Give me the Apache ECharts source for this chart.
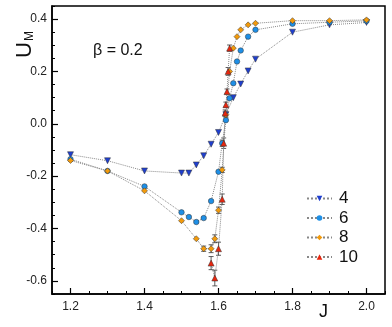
<!DOCTYPE html>
<html>
<head>
<meta charset="utf-8">
<script src="https://cdn.jsdelivr.net/npm/echarts@6/dist/echarts.min.js"></script>
<style>
  html, body { margin: 0; background: #fff; }
  #chart { width: 392px; height: 327px; }
</style>
</head>
<body>
<div id="chart"></div>
<script>
// L = 4
const J4 = [1.2, 1.3, 1.4, 1.5, 1.52, 1.54, 1.56, 1.58, 1.6, 1.62, 1.64, 1.66, 1.68, 1.7, 1.8, 1.9, 2.0];
const U4 = [-0.118, -0.141, -0.18, -0.188, -0.188, -0.157, -0.122, -0.078, -0.033, 0.035, 0.1, 0.152, 0.202, 0.247, 0.35, 0.378, 0.387];
const E4 = [0, 0, 0, 0, 0, 0, 0, 0, 0, 0, 0, 0, 0, 0, 0, 0, 0];
// L = 6
const J6 = [1.2, 1.3, 1.4, 1.5, 1.52, 1.54, 1.56, 1.58, 1.6, 1.61, 1.62, 1.63, 1.64, 1.65, 1.66, 1.68, 1.7, 1.8, 1.9, 2.0];
const U6 = [-0.135, -0.18, -0.239, -0.338, -0.356, -0.375, -0.36, -0.295, -0.183, -0.074, 0.014, 0.098, 0.155, 0.238, 0.28, 0.333, 0.359, 0.382, 0.388, 0.393];
const E6 = [0, 0, 0, 0, 0, 0, 0, 0, 0, 0.012, 0, 0, 0, 0, 0, 0, 0, 0, 0, 0];
// L = 8
const J8 = [1.2, 1.3, 1.4, 1.5, 1.54, 1.56, 1.58, 1.59, 1.6, 1.61, 1.62, 1.63, 1.64, 1.65, 1.66, 1.68, 1.7, 1.8, 1.9, 2.0];
const U8 = [-0.14, -0.18, -0.256, -0.37, -0.439, -0.477, -0.477, -0.439, -0.33, -0.176, 0.035, 0.2, 0.289, 0.333, 0.359, 0.378, 0.384, 0.394, 0.394, 0.397];
const E8 = [0, 0, 0, 0, 0, 0.01, 0.015, 0.015, 0.012, 0.01, 0.01, 0, 0, 0, 0, 0, 0, 0, 0, 0];
// L = 10
const J10 = [1.58, 1.59, 1.6, 1.61, 1.614, 1.618, 1.62, 1.623, 1.626, 1.63];
const U10 = [-0.532, -0.589, -0.477, -0.288, -0.074, 0.041, 0.073, 0.123, 0.2, 0.289];
const E10 = [0.025, 0.03, 0.025, 0.02, 0.02, 0.012, 0.01, 0.01, 0.015, 0.012];

const xMajor = [1.2, 1.4, 1.6, 1.8, 2.0];
const xMinor = [1.15, 1.25, 1.3, 1.35, 1.45, 1.5, 1.55, 1.65, 1.7, 1.75, 1.85, 1.9, 1.95, 2.05];
const yMajor = [-0.6, -0.4, -0.2, 0.0, 0.2, 0.4];
const yMinor = [-0.65, -0.55, -0.5, -0.45, -0.35, -0.3, -0.25, -0.15, -0.1, -0.05, 0.05, 0.1, 0.15, 0.25, 0.3, 0.35, 0.45];

const font = "'Liberation Sans', Arial, sans-serif";
const downTri = "path://M0,0 L10,0 L5,9 Z";

const sets = [
  { name: "4", J: J4, U: U4, E: E4, color: "#1f3fcf", symbol: downTri },
  { name: "6", J: J6, U: U6, E: E6, color: "#1e8fe6", symbol: "circle" },
  { name: "8", J: J8, U: U8, E: E8, color: "#f29a0c", symbol: "diamond" },
  { name: "10", J: J10, U: U10, E: E10, color: "#e8260e", symbol: "triangle" },
];

function renderErr(params, api) {
  const x = api.value(0), y = api.value(1), e = api.value(2);
  if (!e) return;
  const lo = api.coord([x, y - e]);
  const hi = api.coord([x, y + e]);
  const c = 2.5;
  const st = { stroke: "#333", lineWidth: 0.8 };
  return {
    type: "group",
    children: [
      { type: "line", shape: { x1: lo[0], y1: lo[1], x2: hi[0], y2: hi[1] }, style: st },
      { type: "line", shape: { x1: lo[0] - c, y1: lo[1], x2: lo[0] + c, y2: lo[1] }, style: st },
      { type: "line", shape: { x1: hi[0] - c, y1: hi[1], x2: hi[0] + c, y2: hi[1] }, style: st },
    ],
  };
}

const series = [];
sets.forEach((s) => {
  series.push({
    type: "custom",
    name: "err" + s.name,
    renderItem: renderErr,
    data: s.J.map((j, i) => [j, s.U[i], s.E[i]]),
    z: 1,
    silent: true,
  });
});
sets.forEach((s) => {
  series.push({
    type: "line",
    name: s.name,
    data: s.J.map((j, i) => [j, s.U[i]]),
    symbol: s.symbol,
    symbolSize: s.symbol === "circle" ? 5.5 : 6,
    showAllSymbol: true,
    lineStyle: { color: "#888", width: 1, type: "dotted" },
    itemStyle: { color: s.color, borderColor: "#333", borderWidth: 0.5 },
    z: 3,
  });
});

const chart = echarts.init(document.getElementById("chart"));
chart.setOption({
  animation: false,
  grid: { left: 52, right: 7, top: 6, bottom: 33, show: true, borderColor: "#000", borderWidth: 1.5 },
  xAxis: [
    {
      type: "value", min: 1.15, max: 2.05, position: "bottom",
      axisLine: { show: true, onZero: false, lineStyle: { color: "#000", width: 1.5 } },
      axisTick: { inside: true, length: 6, customValues: xMajor, lineStyle: { color: "#000", width: 1.2 } },
      axisLabel: { customValues: xMajor, formatter: (v) => v.toFixed(1), fontSize: 12, color: "#222", fontFamily: font, margin: 7 },
      splitLine: { show: false },
    },
    {
      type: "value", min: 1.15, max: 2.05, position: "bottom",
      axisLine: { show: false, onZero: false },
      axisTick: { inside: true, length: 3, customValues: xMinor, lineStyle: { color: "#000", width: 1 } },
      axisLabel: { show: false },
      splitLine: { show: false },
    },
  ],
  yAxis: [
    {
      type: "value", min: -0.65, max: 0.45, position: "left",
      axisLine: { show: true, onZero: false, lineStyle: { color: "#000", width: 1.5 } },
      axisTick: { inside: true, length: 6, customValues: yMajor, lineStyle: { color: "#000", width: 1.2 } },
      axisLabel: { customValues: yMajor, formatter: (v) => v.toFixed(1), fontSize: 12, color: "#222", fontFamily: font, margin: 5 },
      splitLine: { show: false },
    },
    {
      type: "value", min: -0.65, max: 0.45, position: "left",
      axisLine: { show: false, onZero: false },
      axisTick: { inside: true, length: 3, customValues: yMinor, lineStyle: { color: "#000", width: 1 } },
      axisLabel: { show: false },
      splitLine: { show: false },
    },
  ],
  legend: {
    data: ["4", "6", "8", "10"],
    orient: "vertical",
    left: 301,
    top: 185,
    itemWidth: 25,
    itemHeight: 7,
    itemGap: 2.5,
    itemStyle: { borderWidth: 0 },
    textStyle: { fontSize: 17, color: "#111", fontFamily: font, padding: [0, 0, 0, 2] },
  },
  graphic: [
    {
      type: "text", left: 93, top: 43,
      style: { text: "β = 0.2", font: "16px " + font, fill: "#111" },
    },
    {
      type: "text", left: 319, top: 303,
      style: { text: "J", font: "18px " + font, fill: "#111" },
    },
    {
      type: "text", x: 14, y: 58, rotation: Math.PI / 2,
      style: {
        text: "{u|U}{m|M}",
        rich: {
          u: { font: "22px " + font, fill: "#111" },
          m: { font: "12px " + font, fill: "#111", padding: [10, 0, 0, 1] },
        },
      },
    },
  ],
  series: series,
});
</script>
</body>
</html>
